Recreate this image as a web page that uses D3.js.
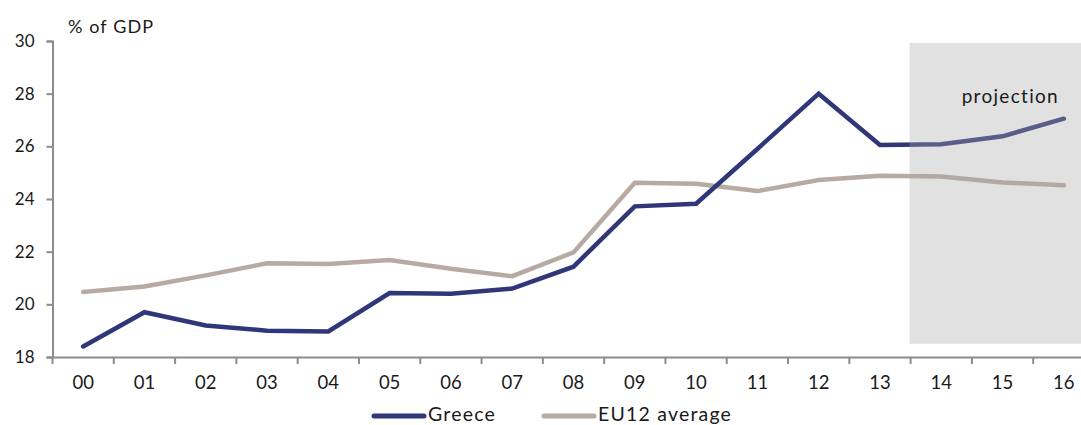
<!DOCTYPE html>
<html><head><meta charset="utf-8">
<script src="https://cdn.jsdelivr.net/npm/d3@7"></script>
<style>body{margin:0;background:#fff}svg{display:block}text{font-family:"Lato","Noto Sans",sans-serif;fill:#1a1a1a}</style>
</head><body><svg id="c" width="1081" height="425"></svg>
<script>
const years = ["00","01","02","03","04","05","06","07","08","09","10","11","12","13","14","15","16"];
const greece = [18.4,19.7,19.2,19.0,18.97,20.43,20.4,20.6,21.43,23.72,23.82,25.9,28.0,26.05,26.08,26.38,27.05];
const eu12 = [20.47,20.68,21.1,21.56,21.53,21.68,21.35,21.07,21.97,24.62,24.58,24.3,24.72,24.88,24.85,24.63,24.52];
const yTicks = [18,20,22,24,26,28,30];
const projectionStart = "14";

const svg = d3.select("#c");
const x = d3.scaleBand().domain(years).range([52.5, 1094.5]).padding(0);
const y = d3.scaleLinear().domain([18,30]).range([357,41]);
const cx = d => x(d) + x.bandwidth()/2;

const line = d3.line().x((d,i)=>cx(years[i])).y(d=>y(d));

svg.append("path").datum(eu12).attr("d",line).attr("fill","none")
  .attr("stroke","#b7aaa2").attr("stroke-width",4.5).attr("stroke-linejoin","miter").attr("stroke-linecap","round");
svg.append("path").datum(greece).attr("d",line).attr("fill","none")
  .attr("stroke","#2f3778").attr("stroke-width",4.5).attr("stroke-linejoin","miter").attr("stroke-linecap","round");

// projection shade
const px0 = x(projectionStart) - 1;
svg.append("rect").attr("x",px0).attr("y",y(29.93)).attr("width",1081-px0+5).attr("height",y(18.5)-y(29.93))
  .attr("fill","rgb(170,170,170)").attr("fill-opacity",0.35);
svg.append("text").attr("x",1059).attr("y",103).attr("text-anchor","end").attr("font-size",19)
  .attr("letter-spacing",1.3).text("projection");

// axes
const yAxis = svg.append("g").attr("transform","translate(52.5,0)")
  .call(d3.axisLeft(y).tickValues(yTicks).tickSize(6).tickPadding(12));
const xAxis = svg.append("g").attr("transform","translate(0,357)")
  .call(d3.axisBottom(x).tickSize(0).tickPadding(19));
[yAxis,xAxis].forEach(g=>{
  g.select(".domain").attr("stroke","#8c8c8c").attr("stroke-width",2);
  g.selectAll(".tick line").attr("stroke","#8c8c8c").attr("stroke-width",2);
});
yAxis.selectAll("text").attr("font-size",17).attr("fill","#1a1a1a").style("font-family","Lato, 'Noto Sans', sans-serif");
xAxis.selectAll("text").attr("font-size",18.5).attr("fill","#1a1a1a").style("font-family","Lato, 'Noto Sans', sans-serif");
// x tick marks at band boundaries
xAxis.selectAll(".bnd").data(years).enter().append("line").attr("class","bnd")
  .attr("x1",d=>x(d)).attr("x2",d=>x(d)).attr("y1",0).attr("y2",7)
  .attr("stroke","#8c8c8c").attr("stroke-width",2);

svg.append("text").attr("x",68).attr("y",33).attr("font-size",18).attr("letter-spacing",1.1).text("% of GDP");

// legend
const legend = [["Greece","#2f3778",372,428],["EU12 average","#b7aaa2",542,598]];
legend.forEach(([name,col,lx,tx])=>{
  svg.append("line").attr("x1",lx+2).attr("x2",lx+52).attr("y1",416).attr("y2",416)
    .attr("stroke",col).attr("stroke-width",5).attr("stroke-linecap","round");
  svg.append("text").attr("x",tx).attr("y",421).attr("font-size",19.5).attr("letter-spacing",1.2).text(name);
});
</script></body></html>
